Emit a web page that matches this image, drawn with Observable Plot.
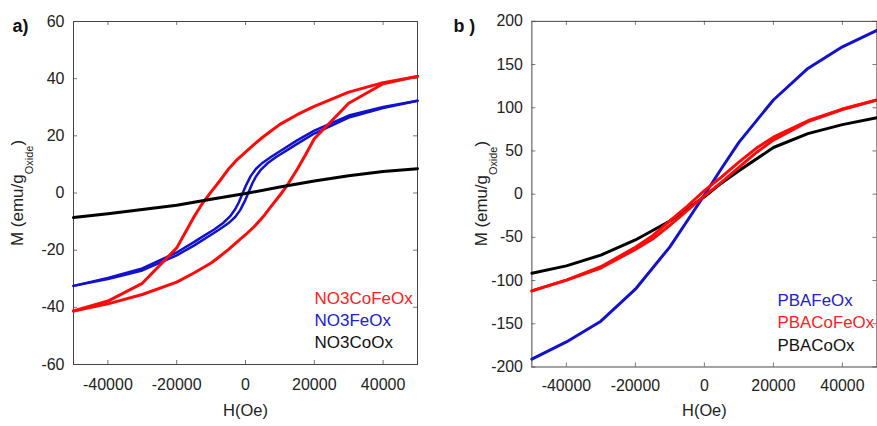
<!DOCTYPE html>
<html><head><meta charset="utf-8">
<script src="https://cdn.jsdelivr.net/npm/d3@7"></script>
<script src="https://cdn.jsdelivr.net/npm/@observablehq/plot@0.6"></script>
<style>
html,body{margin:0;padding:0;background:#fff;}
body{width:877px;height:426px;overflow:hidden;position:relative;}
#a,#b{position:absolute;top:0;}
#a{left:0;}
#b{left:440px;}
</style></head>
<body><div id="a"></div><div id="b"></div>
<script>
// ---------- ticks ----------
const xTicks = [-40000, -20000, 0, 20000, 40000];
const yTicksA = [-60, -40, -20, 0, 20, 40, 60];
const yTicksB = [-200, -150, -100, -50, 0, 50, 100, 150, 200];

// ---------- Panel a) data ----------
// NO3CoFeOx (red) descending branch
const coFeDownH = [50000, 40000, 30000, 20000, 15000, 10000, 7500, 5000, 2500, 0, -2500, -5000, -7500, -10000, -12500, -15000, -17500, -20000, -30000, -40000, -50000];
const coFeDownM = [40.8, 38.6, 35.3, 30.3, 27.4, 24.0, 21.8, 19.5, 17.0, 14.3, 11.6, 8.3, 4.2, 0.4, -3.6, -8.4, -13.8, -19.2, -31.6, -37.8, -41.3];
// NO3CoFeOx (red) ascending branch
const coFeUpH = [-50000, -40000, -30000, -20000, -15000, -10000, -7500, -5000, -2500, 0, 2500, 5000, 7500, 10000, 12500, 15000, 17500, 20000, 30000, 40000, 50000];
const coFeUpM = [-41.3, -38.8, -35.5, -31.2, -28.0, -24.5, -22.2, -19.8, -17.2, -14.6, -11.8, -8.5, -4.6, -0.8, 3.4, 8.2, 13.5, 19.0, 31.4, 38.2, 40.8];

// NO3FeOx (blue) descending branch
const feDownH = [50000, 40000, 30000, 20000, 15000, 10000, 7500, 5000, 3000, 1500, 0, -800, -2000, -3000, -4500, -6500, -9000, -12000, -15000, -20000, -30000, -40000, -50000];
const feDownM = [32.3, 30.1, 27.1, 21.8, 18.4, 14.6, 12.7, 10.6, 8.4, 5.9, 2.3, 0.0, -3.4, -5.7, -8.2, -10.5, -12.7, -14.9, -17.2, -20.8, -26.4, -29.7, -32.5];
// NO3FeOx (blue) ascending branch
const feUpH = [-50000, -40000, -30000, -20000, -15000, -10000, -7500, -5000, -3000, -1500, 0, 800, 2000, 3000, 4500, 6500, 9000, 12000, 15000, 20000, 30000, 40000, 50000];
const feUpM = [-32.5, -30.1, -27.1, -21.8, -18.4, -14.6, -12.7, -10.6, -8.4, -5.9, -2.3, 0.0, 3.4, 5.7, 8.2, 10.5, 12.7, 14.9, 17.2, 20.8, 26.4, 29.7, 32.3];

// NO3CoOx (black)
const coH = [-50000, -40000, -30000, -20000, -10000, 0, 10000, 20000, 30000, 40000, 50000];
const coM = [-8.6, -7.3, -5.8, -4.3, -2.2, -0.2, 2.1, 4.2, 6.0, 7.5, 8.5];

// ---------- Panel b) data ----------
// PBAFeOx (blue)
const pbaFeH = [-50000, -40000, -30000, -20000, -10000, -5000, 0, 5000, 10000, 20000, 30000, 40000, 50000];
const pbaFeM = [-191, -171, -147, -110, -61, -31, -1, 30, 60, 109, 145.5, 170.5, 189.5];
// PBACoFeOx (red) descending / ascending
const pbaCoFeDownH = [50000, 40000, 30000, 20000, 15000, 10000, 5000, 0, -5000, -10000, -15000, -20000, -30000, -40000, -50000];
const pbaCoFeDownM = [109, 98.5, 85, 66, 53, 37, 20, 4, -14, -31, -48, -61.5, -84, -99.5, -112];
const pbaCoFeUpH = [-50000, -40000, -30000, -20000, -15000, -10000, -5000, 0, 5000, 10000, 15000, 20000, 30000, 40000, 50000];
const pbaCoFeUpM = [-112, -99.5, -85.5, -64, -52, -36, -19, -2, 14, 31, 48, 62.5, 84, 98, 109];
// PBACoOx (black)
const pbaCoH = [-50000, -40000, -30000, -20000, -10000, -5000, 0, 5000, 10000, 20000, 30000, 40000, 50000];
const pbaCoM = [-91.5, -83, -70.5, -53, -31, -17, -3, 13, 27, 54, 70, 80.5, 88.5];

const legendA = ["NO3CoFeOx", "NO3FeOx", "NO3CoOx"];
const legendB = ["PBAFeOx", "PBACoFeOx", "PBACoOx"];

// ---------- helpers ----------
const RED = "#ff0a0a", BLUE = "#1212cc", BLACK = "#000000";
const pts = (H, M) => H.map((h, i) => ({H: h, M: M[i]}));
const fmt = d => String(d);
const FONT = "'Liberation Sans', Arial, sans-serif";

function framedTicks(xt, yt, pw, ph) {
  return [
    Plot.tickY(yt, {y: d => d, insetRight: pw - 4, stroke: "#777"}),
    Plot.tickY(yt, {y: d => d, insetLeft: pw - 4, stroke: "#777"}),
    Plot.tickX(xt, {x: d => d, insetBottom: ph - 4, stroke: "#777"}),
    Plot.tickX(xt, {x: d => d, insetTop: ph - 4, stroke: "#777"}),
    Plot.frame({stroke: "#444", strokeWidth: 1})
  ];
}

function legendMarks(labels, colors, dx, dys) {
  return labels.map((t, i) => Plot.text([t], {
    text: d => d, frameAnchor: "bottom-right", textAnchor: "start",
    dx, dy: dys[i], fill: colors[i], fontSize: 17
  }));
}

function yLabel(svg, x, y) {
  const t = d3.select(svg).append("text")
    .attr("transform", `translate(${x},${y}) rotate(-90)`)
    .attr("text-anchor", "middle")
    .attr("font-family", FONT)
    .attr("font-size", 17)
    .attr("fill", "#222");
  t.append("tspan").text("M (emu/g");
  t.append("tspan").attr("dy", 10).attr("font-size", 11).text("Oxide");
  t.append("tspan").attr("dy", -10).text(")");
}

// ---------- Panel a ----------
const pwA = 344, phA = 343;
const plotA = Plot.plot({
  width: 440, height: 426,
  marginLeft: 73, marginRight: 23, marginTop: 21, marginBottom: 62,
  style: {fontFamily: FONT, fontSize: "16px", color: "#222", background: "#fff"},
  x: {domain: [-50000, 50000], label: null},
  y: {domain: [-60, 60], label: null},
  marks: [
    Plot.axisX(xTicks, {tickSize: 0, tickPadding: 14, tickFormat: fmt, fontSize: 16}),
    Plot.axisY(yTicksA, {tickSize: 0, tickPadding: 9, tickFormat: fmt, fontSize: 16}),
    ...framedTicks(xTicks, yTicksA, pwA, phA),
    Plot.line(pts(feDownH, feDownM), {x: "H", y: "M", stroke: BLUE, strokeWidth: 2.5}),
    Plot.line(pts(feUpH, feUpM), {x: "H", y: "M", stroke: BLUE, strokeWidth: 2.5}),
    Plot.line(pts(coFeDownH, coFeDownM), {x: "H", y: "M", stroke: RED, strokeWidth: 3}),
    Plot.line(pts(coFeUpH, coFeUpM), {x: "H", y: "M", stroke: RED, strokeWidth: 3}),
    Plot.line(pts(coH, coM), {x: "H", y: "M", stroke: BLACK, strokeWidth: 3}),
    ...legendMarks(legendA, ["#ff2020", "#2020d0", "#111"], -103, [-61, -39, -17]),
    Plot.text(["H(Oe)"], {text: d => d, frameAnchor: "bottom", dy: 51, fontSize: 16.5, fill: "#222"}),
    Plot.text(["a)"], {text: d => d, frameAnchor: "top-left", textAnchor: "start", lineAnchor: "top", dx: -61, dy: -2, fontSize: 18, fontWeight: "bold", fill: "#111"})
  ]
});
document.getElementById("a").append(plotA);
yLabel(plotA, 23, 193);

// ---------- Panel b ----------
const pwB = 347.4, phB = 348;
const plotB = Plot.plot({
  width: 440, height: 426,
  marginLeft: 92, marginRight: 0.6, marginTop: 21, marginBottom: 57,
  style: {fontFamily: FONT, fontSize: "16px", color: "#222", background: "#fff"},
  x: {domain: [-50000, 50000], label: null},
  y: {domain: [-200, 200], label: null},
  marks: [
    Plot.axisX(xTicks, {tickSize: 0, tickPadding: 13, tickFormat: fmt, fontSize: 16}),
    Plot.axisY(yTicksB, {tickSize: 0, tickPadding: 9, tickFormat: fmt, fontSize: 16}),
    ...framedTicks(xTicks, yTicksB, pwB, phB),
    Plot.line(pts(pbaCoH, pbaCoM), {x: "H", y: "M", stroke: BLACK, strokeWidth: 3}),
    Plot.line(pts(pbaFeH, pbaFeM), {x: "H", y: "M", stroke: BLUE, strokeWidth: 3}),
    Plot.line(pts(pbaCoFeDownH, pbaCoFeDownM), {x: "H", y: "M", stroke: RED, strokeWidth: 3}),
    Plot.line(pts(pbaCoFeUpH, pbaCoFeUpM), {x: "H", y: "M", stroke: RED, strokeWidth: 3}),
    ...legendMarks(legendB, ["#2020d0", "#ff2020", "#111"], -100, [-61, -39, -16]),
    Plot.text(["H(Oe)"], {text: d => d, frameAnchor: "bottom", dy: 49, fontSize: 16.5, fill: "#222"}),
    Plot.text(["b )"], {text: d => d, frameAnchor: "top-left", textAnchor: "start", lineAnchor: "top", dx: -79, dy: -2, fontSize: 18, fontWeight: "bold", fill: "#111"})
  ]
});
document.getElementById("b").append(plotB);
yLabel(plotB, 47, 195);
</script>
</body></html>
